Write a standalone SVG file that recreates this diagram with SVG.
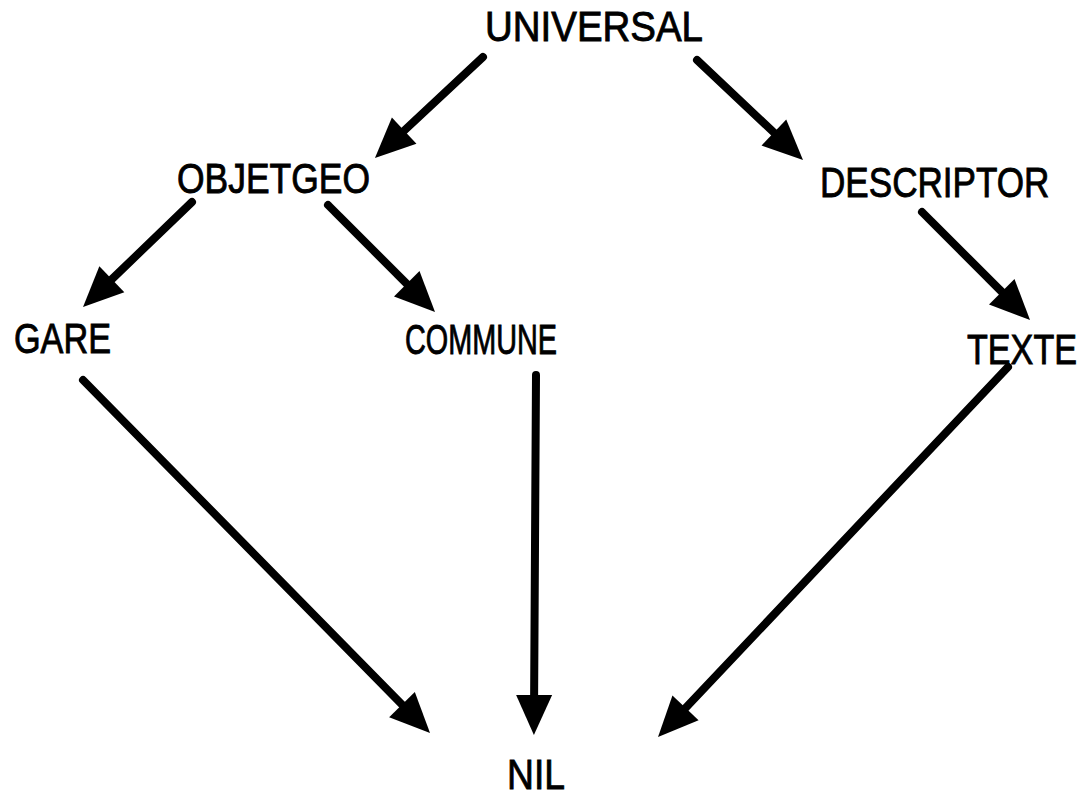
<svg xmlns="http://www.w3.org/2000/svg" width="1086" height="796" viewBox="0 0 1086 796">
<style>
.lbl{font-family:"Liberation Sans",Arial,sans-serif;font-size:43px;fill:#000;stroke:#000;stroke-width:0.9}
.arr{stroke:#000;stroke-width:8;fill:none;stroke-linecap:round;marker-end:url(#ah)}
</style>
<defs>
<marker id="ah" markerUnits="userSpaceOnUse" viewBox="0 0 42 38" markerWidth="42" markerHeight="38" refX="23" refY="19" orient="auto">
<path d="M1,1 L41,19 L1,37 Z" fill="#000"/>
</marker>
</defs>
<rect width="1086" height="796" fill="#fff"/>
<g id="connectors">
<line class="arr" x1="483" y1="57" x2="388.1" y2="145.7"/>
<line class="arr" x1="697" y1="60" x2="789.9" y2="147.6"/>
<line class="arr" x1="192" y1="202" x2="96" y2="294.5"/>
<line class="arr" x1="328" y1="205" x2="422.3" y2="299.3"/>
<line class="arr" x1="922" y1="212" x2="1017.3" y2="307.3"/>
<line class="arr" x1="83" y1="380" x2="417.4" y2="720.2"/>
<line class="arr" x1="536" y1="375" x2="534" y2="717"/>
<line class="arr" x1="1008" y1="367" x2="670.4" y2="723.9"/>
</g>
<g id="universal"><text class="lbl" x="485" y="41" textLength="218" lengthAdjust="spacingAndGlyphs">UNIVERSAL</text></g>
<g id="objetgeo"><text class="lbl" x="177" y="193" textLength="193" lengthAdjust="spacingAndGlyphs">OBJETGEO</text></g>
<g id="descriptor"><text class="lbl" transform="translate(820,197) scale(0.816,1)" x="0" y="0">DESCRIPTOR</text></g>
<g id="gare"><text class="lbl" x="14" y="353" textLength="97" lengthAdjust="spacingAndGlyphs">GARE</text></g>
<g id="commune"><text class="lbl" x="405" y="354" textLength="152" lengthAdjust="spacingAndGlyphs">COMMUNE</text></g>
<g id="texte"><text class="lbl" transform="translate(967,364) scale(0.794,1)" x="0" y="0">TEXTE</text></g>
<g id="nil"><text class="lbl" x="507" y="789" textLength="58" lengthAdjust="spacingAndGlyphs">NIL</text></g>
</svg>
